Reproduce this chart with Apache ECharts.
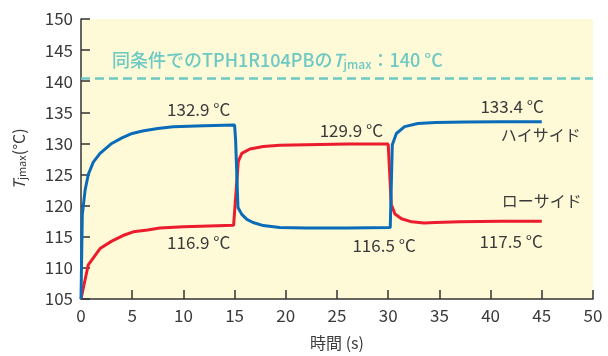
<!DOCTYPE html>
<html>
<head>
<meta charset="utf-8">
<script src="https://cdn.jsdelivr.net/npm/echarts@6/dist/echarts.min.js"></script>
<style>html,body{margin:0;padding:0;background:#fff}#c{width:608px;height:356px}</style>
</head>
<body>
<div id="c"></div>
<script>
// High side (blue)
const hsT = [0, 0.13, 0.4, 0.71, 1.2, 1.86, 3.0, 4.0, 5.0, 6.0, 7.5, 9.0, 12.0, 15.0, 15.1, 15.33, 15.7, 16.2, 16.8, 17.8, 19.4, 22, 26, 30.2, 30.4, 30.8, 31.6, 32.9, 34.6, 37.5, 41, 45];
const hsV = [105, 118.6, 122.5, 125.0, 127.0, 128.4, 130.0, 130.9, 131.6, 132.0, 132.4, 132.7, 132.85, 132.95, 130.5, 119.7, 118.6, 117.8, 117.3, 116.8, 116.5, 116.4, 116.4, 116.5, 129.8, 131.6, 132.7, 133.2, 133.35, 133.45, 133.5, 133.5];
// Low side (red)
const lsT = [0, 0.71, 1.86, 3.0, 4.1, 5.1, 6.5, 7.7, 10, 12.5, 14.9, 15.36, 15.7, 16.5, 17.8, 19.4, 22, 26, 30.0, 30.3, 30.66, 31.3, 32.3, 33.5, 34.6, 37, 41, 45];
const lsV = [105, 110.5, 113.1, 114.3, 115.2, 115.8, 116.1, 116.4, 116.6, 116.75, 116.85, 127.1, 128.4, 129.1, 129.5, 129.7, 129.8, 129.9, 129.9, 120.2, 118.65, 117.9, 117.4, 117.2, 117.3, 117.4, 117.5, 117.5];
const xTicks = {min: 0, max: 50, interval: 5};
const yTicks = {min: 105, max: 150, interval: 5};
const limitValue = 140.4;
const labelTexts = ['132.9 °C', '116.9 °C', '129.9 °C', '116.5 °C', '133.4 °C', '117.5 °C', 'ハイサイド', 'ローサイド'];
const labelPosT = [11.5, 11.5, 26.4, 29.6, 42.1, 42.0, 44.9, 45.0];
const labelPosV = [135.4, 114.0, 132.1, 113.6, 135.9, 114.2, 131.4, 120.8];

const FONT = '"Noto Sans CJK JP", "Noto Sans", sans-serif';
const TXT = '#3a3a3a';
const BLUE = '#0a6cb8';
const RED = '#eb1c2d';
const TEAL = '#6cc9c3';

const chart = echarts.init(document.getElementById('c'), null, {renderer: 'canvas'});
const pts = (t, v) => t.map((x, i) => [x, v[i]]);
const labelData = labelTexts.map((s, i) => ({
  coord: [labelPosT[i], labelPosV[i]], value: s,
  symbol: 'circle', symbolSize: 0,
  label: {show: true, position: 'inside', formatter: s, color: TXT, fontSize: i >= 6 ? 16 : 17, fontFamily: FONT}
}));

chart.setOption({
  animation: false,
  backgroundColor: '#fff',
  grid: {left: 81, right: 15, top: 19, bottom: 53, show: true, backgroundColor: '#fef9d7', borderWidth: 0},
  xAxis: {
    type: 'value', min: xTicks.min, max: xTicks.max, interval: xTicks.interval,
    name: '時間 (s)', nameLocation: 'middle', nameGap: 36,
    nameTextStyle: {color: TXT, fontSize: 16, fontFamily: FONT},
    axisLine: {show: true, lineStyle: {color: '#333', width: 1.5}},
    axisTick: {show: true, inside: true, length: 9, lineStyle: {color: '#333', width: 1.5}},
    axisLabel: {color: TXT, fontSize: 17, fontFamily: FONT, margin: 8},
    splitLine: {show: false}
  },
  yAxis: {
    type: 'value', min: yTicks.min, max: yTicks.max, interval: yTicks.interval,
    name: '{t|T}{s|jmax}{n|(°C)}', nameLocation: 'middle', nameGap: 54, nameRotate: 90,
    nameTextStyle: {color: TXT, fontSize: 16, fontFamily: FONT,
      rich: {
        t: {fontStyle: 'italic', fontSize: 16, fontFamily: FONT, color: TXT},
        s: {fontSize: 11, fontFamily: FONT, color: TXT, verticalAlign: 'bottom', padding: [6, 0, 0, 0]},
        n: {fontSize: 16, fontFamily: FONT, color: TXT}
      }},
    axisLine: {show: true, lineStyle: {color: '#333', width: 1.5}},
    axisTick: {show: true, inside: true, length: 9, lineStyle: {color: '#333', width: 1.5}},
    axisLabel: {color: TXT, fontSize: 17, fontFamily: FONT, margin: 8},
    splitLine: {show: false}
  },
  series: [
    {
      type: 'line', name: 'ハイサイド', data: pts(hsT, hsV), showSymbol: false, smooth: false,
      lineStyle: {color: BLUE, width: 3}, z: 3,
      markLine: {
        silent: true, symbol: 'none',
        lineStyle: {color: TEAL, type: [9, 5], width: 2.5},
        label: {show: false},
        data: [{yAxis: limitValue}]
      }
    },
    {
      type: 'line', name: 'ローサイド', data: pts(lsT, lsV), showSymbol: false, smooth: false,
      lineStyle: {color: RED, width: 3}, z: 2,
      markPoint: {silent: true, data: labelData}
    }
  ],
  graphic: [{
    type: 'text', left: 112, top: 51,
    style: {
      text: '{a|同条件でのTPH1R104PBの}{t|T}{s|jmax}{a|：140 °C}',
      rich: {
        a: {fontSize: 18, fontFamily: FONT, fill: TEAL, fontWeight: 500},
        t: {fontSize: 18, fontFamily: FONT, fill: TEAL, fontStyle: 'italic', fontWeight: 500},
        s: {fontSize: 12, fontFamily: FONT, fill: TEAL, fontWeight: 500, padding: [8, 0, 0, 0]}
      }
    }
  }]
});
</script>
</body>
</html>
